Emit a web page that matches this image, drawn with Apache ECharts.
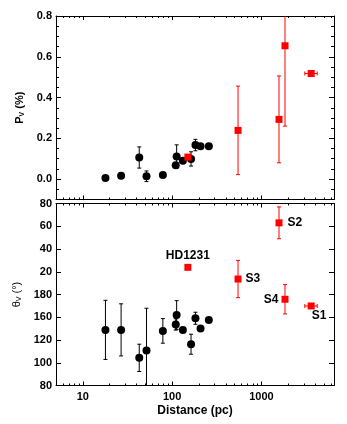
<!DOCTYPE html>
<html>
<head>
<meta charset="utf-8">
<script src="https://cdn.jsdelivr.net/npm/echarts@6/dist/echarts.min.js"></script>
<style>
html,body{margin:0;padding:0;background:#fff;}
#chart{width:347px;height:424px;}
</style>
</head>
<body>
<div id="chart"></div>
<script>
// field stars (black)
var distBlack = [17.9, 26.8, 42.8, 51.6, 78.7, 112.3, 109.7, 131.8, 162.8, 182.4, 208, 257.6];
var pBlack = [0.006, 0.017, 0.106, 0.014, 0.020, 0.111, 0.068, 0.090, 0.099, 0.167, 0.161, 0.161];
var pBlackErr = [0.004, 0.006, 0.052, 0.026, 0.004, 0.057, 0.008, 0.008, 0.035, 0.028, 0.006, 0.006];
// theta in panel units (80 at bottom ... 240 at top, see thetaTickLabels)
var thetaBlack = [128.9, 128.9, 104.3, 110.7, 128.0, 142.0, 133.7, 128.9, 116.3, 139.1, 130.2, 137.5];
var thetaBlackErr = [26.0, 22.9, 12.0, 37.2, 10.8, 12.6, 5.0, 2.0, 8.8, 5.3, 2.0, 2.0];

// named targets (red)
var redNames = ['HD1231', 'S3', 'S2', 'S4', 'S1'];
var distRed = [150, 547, 1574, 1837, 3606];
var distRedLo = [0, 0, 0, 0, 3062];
var distRedHi = [0, 0, 0, 0, 4217];
var pRed = [0.108, 0.239, 0.293, 0.654, 0.518];
var pRedErr = [0, 0.217, 0.213, 0.394, 0];
var thetaRed = [183.9, 173.6, 223.0, 155.8, 149.9];
var thetaRedErr = [0, 16.4, 14.0, 12.9, 0];

// ticks
var xLabelValues = [10, 100, 1000];
var xMinorValues = [6, 7, 8, 9, 20, 30, 40, 50, 60, 70, 80, 90, 200, 300, 400, 500, 600, 700, 800, 900, 2000, 3000, 4000, 5000, 6000];
var pTickValues = [0, 0.2, 0.4, 0.6, 0.8];
var pMinorValues = [-0.05, 0.05, 0.1, 0.15, 0.25, 0.3, 0.35, 0.45, 0.5, 0.55, 0.65, 0.7, 0.75];
var thetaTickLabels = ['80', '100', '120', '160', '180', '20', '40', '60', '80'];

var FONT = '"Liberation Sans", Arial, Helvetica, sans-serif';
var chart = echarts.init(document.getElementById('chart'));

function xAxisDef(grid, pos, ticks, len, line, labels) {
    var a = {
        type: 'log', logBase: 10, gridIndex: grid, position: pos, min: 5, max: 6500,
        axisLine: {show: line, onZero: false, lineStyle: {color: '#000', width: 1}},
        axisTick: {show: true, inside: true, length: len, customValues: ticks, lineStyle: {color: '#000', width: 1}},
        axisLabel: {
            show: labels, customValues: xLabelValues, margin: 6, color: '#000',
            fontFamily: FONT, fontWeight: 'bold', fontSize: 11,
            formatter: function (v) { return String(Math.round(v)); }
        },
        splitLine: {show: false}
    };
    if (labels) {
        a.name = 'Distance (pc)';
        a.nameLocation = 'middle';
        a.nameGap = 19;
        a.nameTextStyle = {color: '#000', fontFamily: FONT, fontWeight: 'bold', fontSize: 12};
    }
    return a;
}

function pAxisDef(pos, ticks, len, line, labels) {
    var a = {
        type: 'value', gridIndex: 0, position: pos, min: -0.1, max: 0.8,
        axisLine: {show: line, onZero: false, lineStyle: {color: '#000', width: 1}},
        axisTick: {show: true, inside: true, length: len, customValues: ticks, lineStyle: {color: '#000', width: 1}},
        axisLabel: {
            show: labels, customValues: pTickValues, margin: 4, color: '#000',
            fontFamily: FONT, fontWeight: 'bold', fontSize: 11,
            formatter: function (v) { return v.toFixed(1); }
        },
        splitLine: {show: false}
    };
    if (labels) {
        a.name = '{b|P}{s|V}{b| (%)}';
        a.nameLocation = 'middle';
        a.nameGap = 28;
        a.nameTextStyle = {
            color: '#000', fontFamily: FONT,
            rich: {
                b: {fontFamily: FONT, fontWeight: 'bold', fontSize: 11, color: '#000'},
                s: {fontFamily: FONT, fontWeight: 'bold', fontSize: 7, color: '#000', padding: [5, 0, 0, 0]}
            }
        };
    }
    return a;
}

function thetaAxisDef(pos, labels) {
    var a = {
        type: 'value', gridIndex: 1, position: pos, min: 80, max: 240, interval: 20,
        axisLine: {show: true, onZero: false, lineStyle: {color: '#000', width: 1}},
        axisTick: {show: true, inside: true, length: 5, lineStyle: {color: '#000', width: 1}},
        axisLabel: {
            show: labels, margin: 4, color: '#000', showMinLabel: true, showMaxLabel: true,
            fontFamily: FONT, fontWeight: 'bold', fontSize: 11,
            formatter: function (v) { return thetaTickLabels[Math.round((v - 80) / 20)]; }
        },
        splitLine: {show: false}
    };
    if (labels) {
        a.name = '{b|θ}{s|V}{b| (°)}';
        a.nameLocation = 'middle';
        a.nameGap = 31;
        a.nameTextStyle = {
            color: '#000', fontFamily: FONT,
            rich: {
                b: {fontFamily: FONT, fontSize: 11, color: '#000'},
                s: {fontFamily: FONT, fontSize: 7, color: '#000', padding: [5, 0, 0, 0]}
            }
        };
    }
    return a;
}

function renderErr(params, api) {
    var x = api.value(0), y = api.value(1), ey = api.value(2), xlo = api.value(3), xhi = api.value(4);
    var style = {stroke: api.visual('color'), lineWidth: 1, fill: null};
    var c = api.coord([x, y]);
    var cap = 2;
    var kids = [];
    function seg(x1, y1, x2, y2) {
        kids.push({type: 'line', shape: {x1: x1, y1: y1, x2: x2, y2: y2}, style: style});
    }
    if (ey > 0) {
        var lo = api.coord([x, y - ey]), hi = api.coord([x, y + ey]);
        seg(c[0], lo[1], c[0], hi[1]);
        seg(c[0] - cap, lo[1], c[0] + cap, lo[1]);
        seg(c[0] - cap, hi[1], c[0] + cap, hi[1]);
    }
    if (xlo > 0) {
        var l = api.coord([xlo, y]), r = api.coord([xhi, y]);
        seg(l[0], c[1], r[0], c[1]);
        seg(l[0], c[1] - cap, l[0], c[1] + cap);
        seg(r[0], c[1] - cap, r[0], c[1] + cap);
    }
    return {type: 'group', children: kids};
}

function errSeries(xi, yi, color, data) {
    return {
        type: 'custom', xAxisIndex: xi, yAxisIndex: yi, clip: true, silent: true, z: 1,
        itemStyle: {color: color}, renderItem: renderErr, encode: {x: 0, y: 1}, data: data
    };
}

var blackTop = [], blackTopErr = [], blackBot = [], blackBotErr = [];
for (var i = 0; i < distBlack.length; i++) {
    blackTop.push([distBlack[i], pBlack[i]]);
    blackTopErr.push([distBlack[i], pBlack[i], pBlackErr[i], 0, 0]);
    blackBot.push([distBlack[i], thetaBlack[i]]);
    blackBotErr.push([distBlack[i], thetaBlack[i], thetaBlackErr[i], 0, 0]);
}

var labelPlace = {
    HD1231: {position: 'top', distance: 2},
    S3: {position: 'right', distance: 4},
    S2: {position: 'right', distance: 5},
    S4: {position: 'left', distance: 3},
    S1: {position: 'bottom', distance: 0, offset: [8, 0]}
};
var redTop = [], redTopErr = [], redBot = [], redBotErr = [];
for (var j = 0; j < redNames.length; j++) {
    redTop.push([distRed[j], pRed[j]]);
    redTopErr.push([distRed[j], pRed[j], pRedErr[j], distRedLo[j], distRedHi[j]]);
    redBotErr.push([distRed[j], thetaRed[j], thetaRedErr[j], distRedLo[j], distRedHi[j]]);
    var lp = labelPlace[redNames[j]];
    redBot.push({
        name: redNames[j], value: [distRed[j], thetaRed[j]],
        label: {
            show: true, formatter: '{b}', position: lp.position, distance: lp.distance, offset: lp.offset || [0, 0],
            color: '#000', fontFamily: FONT, fontWeight: 'bold', fontSize: 12
        }
    });
}

var option = {
    animation: false,
    backgroundColor: '#fff',
    grid: [
        {left: 56, top: 16, width: 278, height: 183.5},
        {left: 56, top: 203.5, width: 278, height: 182}
    ],
    xAxis: [
        xAxisDef(0, 'bottom', xLabelValues, 4, true, false),
        xAxisDef(0, 'top', xLabelValues, 4, true, false),
        xAxisDef(0, 'bottom', xMinorValues, 2, false, false),
        xAxisDef(0, 'top', xMinorValues, 2, false, false),
        xAxisDef(1, 'bottom', xLabelValues, 4, true, true),
        xAxisDef(1, 'top', xLabelValues, 4, true, false),
        xAxisDef(1, 'bottom', xMinorValues, 2, false, false),
        xAxisDef(1, 'top', xMinorValues, 2, false, false)
    ],
    yAxis: [
        pAxisDef('left', pTickValues, 5, true, true),
        pAxisDef('right', pTickValues, 5, true, false),
        pAxisDef('left', pMinorValues, 3, false, false),
        pAxisDef('right', pMinorValues, 3, false, false),
        thetaAxisDef('left', true),
        thetaAxisDef('right', false)
    ],
    series: [
        errSeries(0, 0, '#000', blackTopErr),
        errSeries(0, 0, '#ff0000', redTopErr),
        errSeries(4, 4, '#000', blackBotErr),
        errSeries(4, 4, '#ff0000', redBotErr),
        {type: 'scatter', xAxisIndex: 0, yAxisIndex: 0, symbol: 'circle', symbolSize: 8, z: 3,
            itemStyle: {color: '#000', opacity: 1}, data: blackTop},
        {type: 'scatter', xAxisIndex: 0, yAxisIndex: 0, symbol: 'rect', symbolSize: 7, z: 4,
            itemStyle: {color: '#ff0000', opacity: 1}, data: redTop},
        {type: 'scatter', xAxisIndex: 4, yAxisIndex: 4, symbol: 'circle', symbolSize: 8, z: 3,
            itemStyle: {color: '#000', opacity: 1}, data: blackBot},
        {type: 'scatter', xAxisIndex: 4, yAxisIndex: 4, symbol: 'rect', symbolSize: 7, z: 4,
            itemStyle: {color: '#ff0000', opacity: 1}, data: redBot}
    ]
};
chart.setOption(option);
</script>
</body>
</html>
